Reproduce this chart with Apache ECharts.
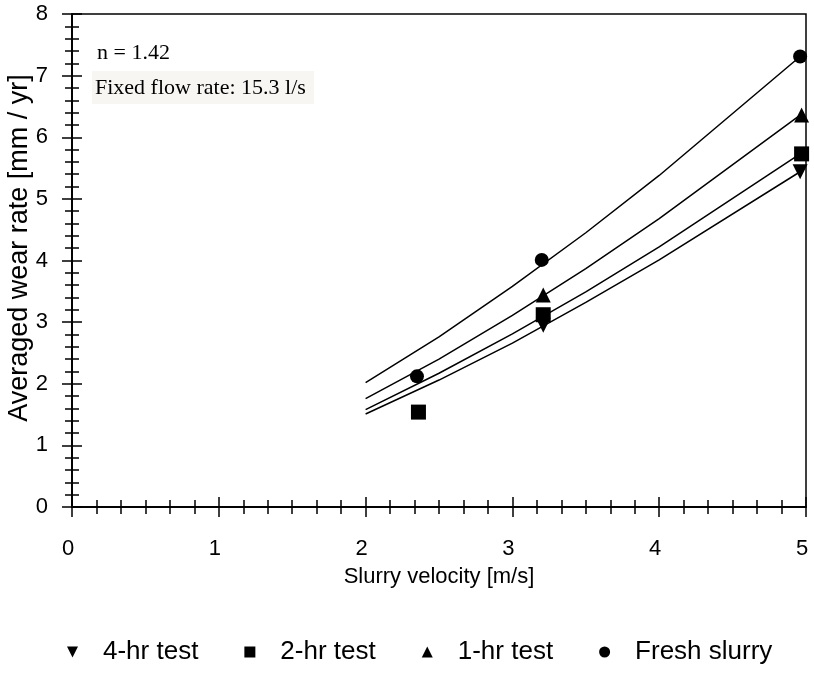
<!DOCTYPE html>
<html>
<head>
<meta charset="utf-8">
<script src="https://cdn.jsdelivr.net/npm/echarts@6/dist/echarts.min.js"></script>
<style>
  html, body { margin: 0; padding: 0; background: #fff; }
  #chart { width: 814px; height: 686px; }
</style>
</head>
<body>
<div id="chart"></div>
<script>
// measured points (velocity m/s, wear rate mm/yr)
var fresh = [[2.35, 2.12], [3.20, 4.01], [4.96, 7.31]];
var hr1 = [[3.21, 3.44], [4.97, 6.36]];
var hr2 = [[2.36, 1.54], [3.21, 3.12], [4.97, 5.73]];
var hr4 = [[3.21, 2.95], [4.96, 5.44]];

// fitted curves as drawn (n = 1.42)
var curveX = [2, 2.5, 3, 3.5, 4, 4.96];
var freshFit = [2.02, 2.76, 3.58, 4.45, 5.38, 7.31];
var hr1Fit = [1.76, 2.40, 3.11, 3.87, 4.68, 6.36];
var hr2Fit = [1.58, 2.17, 2.81, 3.49, 4.22, 5.73];
var hr4Fit = [1.51, 2.06, 2.66, 3.32, 4.01, 5.44];

var xTicks = [0, 1, 2, 3, 4, 5];
var yTicks = [0, 1, 2, 3, 4, 5, 6, 7, 8];

function pairs(xs, ys) {
    return xs.map(function (x, i) { return [x, ys[i]]; });
}

var sans = 'Liberation Sans, Arial, sans-serif';
var downTri = 'path://M0,0 L10,0 L5,10 Z';

var myChart = echarts.init(document.getElementById('chart'));

function fitLine(name, ys) {
    return {
        name: name,
        type: 'line',
        data: pairs(curveX, ys),
        showSymbol: false,
        silent: true,
        lineStyle: { color: '#000', width: 1.5 },
        z: 2
    };
}

function pts(name, data, symbol, size, rot) {
    return {
        name: name,
        type: 'scatter',
        data: data,
        symbol: symbol,
        symbolSize: size,
        symbolRotate: rot || 0,
        itemStyle: { color: '#000', opacity: 1 },
        z: 3
    };
}

var axisBase = {
    type: 'value',
    splitLine: { show: false },
    axisLine: { show: true, lineStyle: { color: '#000', width: 1.5 } },
    axisTick: { show: true, length: 10, lineStyle: { color: '#000', width: 1.5 } },
    minorTick: { show: true, length: 7, lineStyle: { color: '#000', width: 1.5 } }
};

option = {
    animation: false,
    backgroundColor: '#fff',
    grid: {
        left: 72, right: 8, top: 14, bottom: 179,
        show: true, borderColor: '#000', borderWidth: 1.5
    },
    xAxis: [
        echarts.util.merge({
            min: xTicks[0], max: xTicks[xTicks.length - 1], interval: 1,
            position: 'bottom',
            minorTick: { splitNumber: 6 },
            axisLabel: { color: '#000', fontFamily: sans, fontSize: 22, margin: 31, padding: [0, 8, 0, 0] },
            name: 'Slurry velocity [m/s]',
            nameLocation: 'middle',
            nameGap: 59,
            nameTextStyle: { color: '#000', fontFamily: sans, fontSize: 22 }
        }, axisBase, false),
        echarts.util.merge({
            min: xTicks[0], max: xTicks[xTicks.length - 1], interval: 1,
            position: 'bottom',
            minorTick: { splitNumber: 6 },
            axisTick: { inside: true },
            axisLabel: { show: false }
        }, axisBase, false)
    ],
    yAxis: [
        echarts.util.merge({
            min: yTicks[0], max: yTicks[yTicks.length - 1], interval: 1,
            position: 'left',
            minorTick: { splitNumber: 5 },
            axisLabel: { color: '#000', fontFamily: sans, fontSize: 22, margin: 24, padding: [5, 0, 0, 0] }
        }, axisBase, false),
        echarts.util.merge({
            min: yTicks[0], max: yTicks[yTicks.length - 1], interval: 1,
            position: 'left',
            minorTick: { splitNumber: 5 },
            axisTick: { inside: true },
            axisLabel: { show: false }
        }, axisBase, false)
    ],
    legend: {
        bottom: 16,
        left: 62,
        itemGap: 46,
        itemWidth: 11,
        itemHeight: 11,
        textStyle: { color: '#000', fontFamily: sans, fontSize: 26, padding: [0, 0, 0, 20] },
        data: [
            { name: '4-hr test', icon: downTri },
            { name: '2-hr test', icon: 'rect' },
            { name: '1-hr test', icon: 'triangle' },
            { name: 'Fresh slurry', icon: 'circle' }
        ]
    },
    graphic: [
        {
            type: 'text',
            x: 20, y: 248,
            rotation: Math.PI / 2,
            style: {
                text: 'Averaged wear rate [mm / yr]',
                fill: '#000',
                font: '27px "Liberation Sans", Arial, sans-serif',
                align: 'center',
                verticalAlign: 'middle'
            }
        },
        {
            type: 'rect',
            left: 92, top: 71,
            shape: { width: 222, height: 33 },
            style: { fill: '#f8f6f3' },
            silent: true
        },
        {
            type: 'text',
            left: 97, top: 42,
            style: { text: 'n = 1.42', fill: '#000', font: '22px "Liberation Serif", "Times New Roman", serif' }
        },
        {
            type: 'text',
            left: 95, top: 77,
            style: { text: 'Fixed flow rate: 15.3 l/s', fill: '#000', font: '22px "Liberation Serif", "Times New Roman", serif' }
        }
    ],
    series: [
        fitLine('fit fresh', freshFit),
        fitLine('fit 1-hr', hr1Fit),
        fitLine('fit 2-hr', hr2Fit),
        fitLine('fit 4-hr', hr4Fit),
        pts('4-hr test', hr4, 'triangle', 15, 180),
        pts('2-hr test', hr2, 'rect', 15),
        pts('1-hr test', hr1, 'triangle', 15),
        pts('Fresh slurry', fresh, 'circle', 14)
    ]
};

myChart.setOption(option);
</script>
</body>
</html>
